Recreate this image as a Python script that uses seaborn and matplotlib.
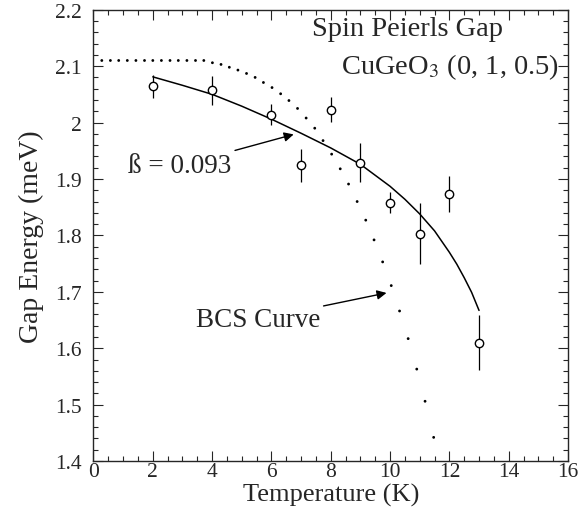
import numpy as np
import pandas as pd
import matplotlib
matplotlib.use("Agg")
import matplotlib.pyplot as plt
from matplotlib.ticker import MultipleLocator
import seaborn as sns

# measured gap energies
temp = [2, 4, 6, 7, 8, 9, 10, 11, 12, 13]
gap = [2.064, 2.057, 2.014, 1.924, 2.023, 1.929, 1.858, 1.803, 1.874, 1.610]
gap_err = [0.021, 0.026, 0.019, 0.030, 0.022, 0.035, 0.019, 0.054, 0.032, 0.049]

# power-law fit (beta = 0.093)
fit_t = [2, 3, 4, 5, 6, 7, 8, 9, 10, 10.5, 11, 11.5, 12, 12.25, 12.5, 12.75, 13]
fit_gap = [2.081, 2.066, 2.050, 2.029, 2.006, 1.981, 1.955, 1.926, 1.887, 1.864,
           1.838, 1.808, 1.770, 1.749, 1.725, 1.699, 1.667]

# BCS curve dots
bcs_t = [0.28, 0.57, 0.85, 1.14, 1.43, 1.72, 2.00, 2.29, 2.58, 2.86, 3.15, 3.44, 3.72,
         4.01, 4.30, 4.58, 4.87, 5.16, 5.45, 5.73, 6.02, 6.31, 6.59, 6.88, 7.17, 7.46,
         7.74, 8.03, 8.32, 8.60, 8.89, 9.18, 9.46, 9.75, 10.04, 10.32, 10.61, 10.90,
         11.18, 11.47]
bcs_gap = [2.110, 2.110, 2.110, 2.110, 2.110, 2.110, 2.110, 2.110, 2.110, 2.110, 2.110,
           2.110, 2.110,
           2.106, 2.103, 2.098, 2.093, 2.087, 2.080, 2.071, 2.062, 2.051, 2.039, 2.025,
           2.008, 1.990, 1.968,
           1.944, 1.918, 1.891, 1.860, 1.827, 1.792, 1.753, 1.711, 1.666, 1.617, 1.563,
           1.506, 1.442]

sns.set_style("ticks")
plt.rcParams['font.family'] = ['Liberation Serif', 'DejaVu Serif']
plt.rcParams['mathtext.fontset'] = 'stix'

fig = plt.figure(figsize=(5.88, 5.10), dpi=100)
ax = fig.add_axes([0.159, 0.094, 0.807, 0.885])

data = pd.DataFrame({"T": temp, "gap": gap})
fit = pd.DataFrame({"T": fit_t, "gap": fit_gap})
bcs = pd.DataFrame({"T": bcs_t, "gap": bcs_gap})

# BCS dots
sns.scatterplot(data=bcs, x="T", y="gap", ax=ax, s=4, color="black",
                edgecolor="none", zorder=2)
# fit curve
sns.lineplot(data=fit, x="T", y="gap", ax=ax, color="black", linewidth=1.1, zorder=3)
# data with error bars
ax.errorbar(temp, gap, yerr=gap_err, fmt="none", ecolor="black", elinewidth=0.9,
            capsize=0, zorder=4)
sns.scatterplot(data=data, x="T", y="gap", ax=ax, s=36, facecolor="white",
                edgecolor="black", linewidth=1.0, zorder=5)

ax.set_xlim(0, 16)
ax.set_ylim(1.4, 2.2)
ax.xaxis.set_major_locator(MultipleLocator(2))
ax.xaxis.set_minor_locator(MultipleLocator(0.5))
ax.yaxis.set_major_locator(MultipleLocator(0.1))
ax.yaxis.set_minor_locator(MultipleLocator(0.02))
ax.set_yticks(np.arange(1.4, 2.21, 0.1))
ax.set_yticklabels(["1.4", "1.5", "1.6", "1.7", "1.8", "1.9", "2", "2.1", "2.2"])
ax.tick_params(which="both", direction="in", top=True, right=True, width=0.8,
               labelsize=15.5)
ax.tick_params(axis="x", which="major", pad=1)
ax.tick_params(axis="y", which="major", pad=8.5)
ax.tick_params(which="major", length=7)
ax.tick_params(which="minor", length=3.5)
for sp in ax.spines.values():
    sp.set_linewidth(1.0)

ax.set_xlabel("Temperature (K)", fontsize=19, labelpad=1)
ax.set_ylabel("Gap Energy (meV)", fontsize=20, labelpad=8)

ax.text(10.58, 2.166, "Spin Peierls Gap", fontsize=20.5, ha="center", va="center")
ax.text(15.71, 2.100, r"CuGeO$_3$ (0, 1, 0.5)", fontsize=20.5, ha="right", va="center")

ax.annotate("ß = 0.093", xy=(6.75, 1.979), xytext=(2.92, 1.924), fontsize=19.5,
            ha="center", va="center",
            arrowprops=dict(arrowstyle="-|>", color="black", lw=1.0,
                            shrinkA=48, shrinkB=0, mutation_scale=14))
ax.annotate("BCS Curve", xy=(9.88, 1.698), xytext=(5.55, 1.651), fontsize=19.5,
            ha="center", va="center",
            arrowprops=dict(arrowstyle="-|>", color="black", lw=1.0,
                            shrinkA=64, shrinkB=0, mutation_scale=14))

fig.savefig("out.png", dpi=100)
